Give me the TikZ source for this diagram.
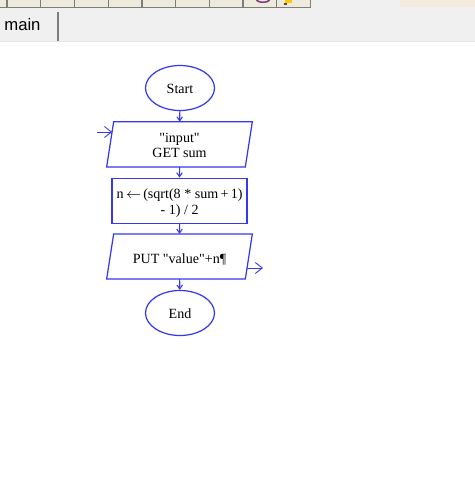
\documentclass[tikz,border=0pt]{standalone}
\usepackage{amsmath}
\usepackage{fontspec}
\setmainfont{Liberation Serif}[Ligatures=TeXOff]
\setsansfont{Liberation Sans}
\usetikzlibrary{arrows.meta,positioning,shapes.geometric}
\definecolor{AzulFlujo}{RGB}{55,55,240}
\definecolor{GrisPanel}{RGB}{240,240,240}
\definecolor{GrisBorde}{RGB}{125,125,125}
\definecolor{CremaBoton}{RGB}{238,234,220}
\definecolor{CremaPanel}{RGB}{243,235,222}
\newcommand{\texto}[2][3.6pt]{\raisebox{-#1}[0pt][0pt]{\begin{tabular}[c]{@{}c@{}}#2\end{tabular}}}
\tikzset{
  startbox/.style={draw=AzulFlujo, line width=0.7pt, ellipse, inner sep=0pt,
    minimum width=1.38cm, minimum height=0.9cm, font=\fontsize{8}{8.8}\selectfont},
  iobox/.style={inner sep=0pt, minimum width=2.76cm, minimum height=0.89cm,
    font=\fontsize{8}{8.8}\selectfont},
  ioline/.style={draw=AzulFlujo, line width=0.7pt},
  procbox/.style={draw=AzulFlujo, line width=0.7pt, inner sep=0pt,
    minimum width=2.7cm, minimum height=0.9cm, font=\fontsize{8}{8.8}\selectfont},
  flowarr/.style={-{Straight Barb[length=0.8mm, width=1.1mm]}, line width=0.6pt, AzulFlujo},
  sidearr/.style={-{Straight Barb[length=1.4mm, width=2.2mm]}, line width=0.5pt, AzulFlujo},
  toolbtn/.style={draw=GrisBorde, line width=0.7pt, fill=CremaBoton, minimum width=0.674cm,
    minimum height=0.4cm, inner sep=0pt},
}
\begin{document}
\begin{tikzpicture}[x=0.02cm, y=-0.02cm]
    \useasboundingbox[fill=white] (0,0) rectangle (475,495);
    % barra de arriba
    \fill[GrisPanel] (0,0) rectangle (475,41);
    \fill[CremaPanel] (400,0) rectangle (475,7);
    \foreach \i in {-1,0,...,8} {
      \node[toolbtn, anchor=south west] (b\i) at (6.5+\i*33.7,8) {};
    }
    \fill[violet!50!gray] (256,0) arc[start angle=180, end angle=360, x radius=7, y radius=-3] -- (268,0) arc[start angle=360, end angle=180, x radius=5, y radius=-1.5] -- cycle;
    \fill[yellow!60!orange] (285,0) rectangle (292,2.5);
    \fill[black!70] (284,2.5) rectangle (287,5);
    \draw[GrisBorde, line width=1pt] (58,12) -- (58,41);
    \draw[black!10] (0,41.5) -- (475,41.5);
    \node[font=\sffamily\fontsize{9.5}{11}\selectfont, anchor=west, inner sep=0pt] (tabmain) at (4,25) {main};

    % diagrama
    \node[startbox] (start) at (180,88) {\texto{Start}};
    \node[iobox] (input) at (179.5,144.3) {\texto{"input"\\GET sum}};
    \node[procbox] (calc) at (179.6,200.7) {\texto{n\,$\leftarrow$\,(sqrt(8 * sum\,+\,1)\\- 1) / 2}};
    \node[iobox] (output) at (179.5,256.5) {\texto[4.4pt]{PUT "value"+n\P}};
    \node[startbox] (end) at (180,313) {\texto{End}};
    \foreach \n in {input,output} {
      \draw[ioline] ([xshift=-0.07cm]\n.south west) -- ([xshift=0.07cm]\n.north west)
        -- ([xshift=0.07cm]\n.north east) -- ([xshift=-0.07cm]\n.south east) -- cycle;
    }
    \draw[flowarr] (start) -- (input);
    \draw[flowarr] (input) -- (calc);
    \draw[flowarr] (calc) -- (output);
    \draw[flowarr] (output) -- (end);
    \coordinate (inpunto) at (97,132);
    \coordinate (outpunto) at (263,268);
    \draw[sidearr] (inpunto) -- ([xshift=0.04cm]input.west |- inpunto);
    \draw[sidearr] ([xshift=-0.04cm]output.east |- outpunto) -- (outpunto);
\end{tikzpicture}
\end{document}
